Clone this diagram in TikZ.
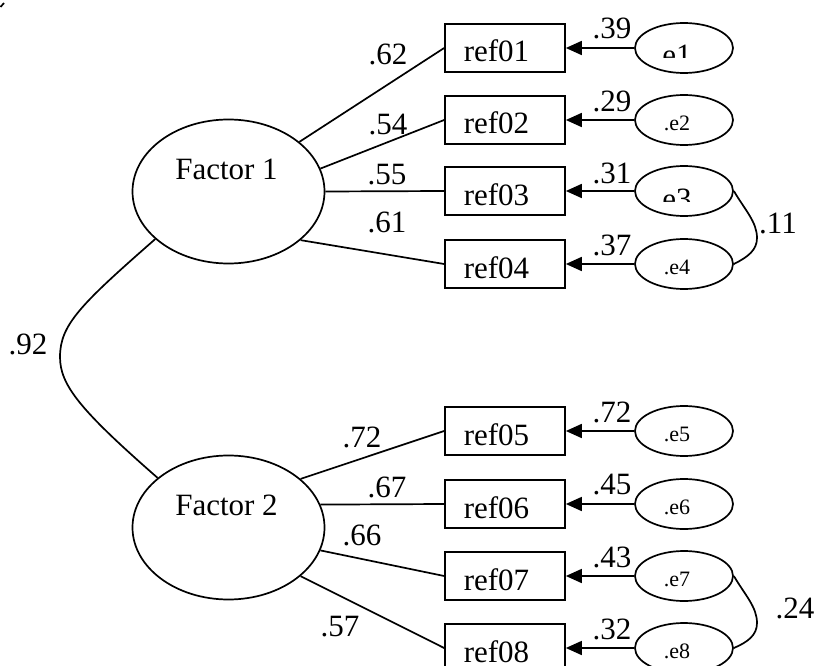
\documentclass[tikz,border=0pt]{standalone}
\usepackage{fontspec}
\setmainfont{Liberation Serif}
\usetikzlibrary{shapes.geometric,arrows.meta,calc}
\begin{document}
\begin{tikzpicture}[x=1pt,y=1pt,line width=1.7pt,
  box/.style={draw,rectangle,minimum width=120pt,minimum height=48pt,inner sep=0pt,
    font=\fontsize{31}{36}\selectfont,text height=28pt,text depth=0pt},
  fac/.style={draw,ellipse,minimum width=192pt,minimum height=144pt,inner sep=0pt},
  err/.style={draw,ellipse,minimum width=98pt,minimum height=50pt,inner sep=0pt},
  big/.style={font=\fontsize{31}{36}\selectfont,inner sep=0pt},
  small/.style={font=\fontsize{22}{26}\selectfont,inner sep=0pt},
  arr/.style={-{Triangle[length=16pt,width=14pt]}},
]
\useasboundingbox (0,0) rectangle (817,-666);
% small mark in the corner
\draw (0.5,-7) -- (4,-3);

% factors
\node[fac] (F1) at (228.5,-191.5) {};
\node[fac] (F2) at (228.5,-527.5) {};
\node[big,anchor=base] (F1t) at ($(F1.center)+(-2,12.5)$) {Factor 1};
\node[big,anchor=base] (F2t) at ($(F2.center)+(-2,12.5)$) {Factor 2};

% indicators
\node[box] (r1) at (505,-48) {ref01\kern17pt};
\node[box] (r2) at (505,-120) {ref02\kern17pt};
\node[box] (r3) at (505,-191) {ref03\kern17pt};
\node[box] (r4) at (505,-264) {ref04\kern17pt};
\node[box] (r5) at (505,-431) {ref05\kern17pt};
\node[box] (r6) at (505,-504) {ref06\kern17pt};
\node[box] (r7) at (505,-576) {ref07\kern17pt};
\node[box] (r8) at (505,-648) {ref08\kern17pt};

% errors
\node[err] (e1) at (684,-48) {};
\node[err] (e2) at (684,-120) {};
\node[err] (e3) at (684,-191) {};
\node[err] (e4) at (684,-264) {};
\node[err] (e5) at (684,-431) {};
\node[err] (e6) at (684,-504) {};
\node[err] (e7) at (684,-576) {};
\node[err] (e8) at (684,-648) {};

\begin{scope}
  \clip (636,-20) rectangle (732,-58);
  \node[big,anchor=base] (e1t) at ($(e1.center)+(-7,-18)$) {e1};
\end{scope}
\begin{scope}
  \clip (636,-160) rectangle (732,-201);
  \node[big,anchor=base] (e3t) at ($(e3.center)+(-7,-18)$) {e3};
\end{scope}
\node[small,anchor=base] (e2t) at ($(e2.center)+(-7,-10.5)$) {.e2};
\node[small,anchor=base] (e4t) at ($(e4.center)+(-7,-10.5)$) {.e4};
\node[small,anchor=base] (e5t) at ($(e5.center)+(-7,-10.5)$) {.e5};
\node[small,anchor=base] (e6t) at ($(e6.center)+(-7,-10.5)$) {.e6};
\node[small,anchor=base] (e7t) at ($(e7.center)+(-7,-10.5)$) {.e7};
\node[small,anchor=base] (e8t) at ($(e8.center)+(-7,-10.5)$) {.e8};

% loadings
\draw (F1.35) -- (r1.west);
\draw (F1.14) -- (r2.west);
\draw (F1.0) -- (r3.west);
\draw (F1.-34) -- (r4.west);
\draw (F2.34) -- (r5.west);
\draw (F2.14) -- (r6.west);
\draw (F2.-14) -- (r7.west);
\draw (F2.-34) -- (r8.west);

% error paths
\foreach \i in {1,...,8} { \draw[arr] (e\i) -- (r\i); }

% correlations
\draw (F1.-147) .. controls (80,-305) and (60,-325) .. (60,-357)
      .. controls (60,-385) and (80,-410) .. (F2.145);
\draw (e3.east) .. controls (745,-210) and (757,-222) .. (757,-238)
      .. controls (757,-250) and (748,-257) .. (e4.east);
\draw (e7.east) .. controls (745,-595) and (757,-607) .. (757,-623)
      .. controls (757,-635) and (748,-642) .. (e8.east);

% labels
\node[big] (l62) at (388,-54) {.62};
\node[big] (l54) at (388,-125) {.54};
\node[big] (l55) at (387,-175) {.55};
\node[big] (l61) at (387,-222) {.61};
\node[big] (l72) at (362,-437) {.72};
\node[big] (l67) at (387,-487) {.67};
\node[big] (l66) at (362,-535) {.66};
\node[big] (l57) at (340,-627) {.57};
\node[big] (l92) at (28,-344) {.92};
\node[big] (l11) at (778,-223) {.11};
\node[big] (l24) at (795,-608) {.24};
\node[big] (v1) at (612,-28) {.39};
\node[big] (v2) at (612,-101) {.29};
\node[big] (v3) at (612,-173) {.31};
\node[big] (v4) at (612,-245) {.37};
\node[big] (v5) at (612,-412) {.72};
\node[big] (v6) at (612,-485) {.45};
\node[big] (v7) at (612,-557) {.43};
\node[big] (v8) at (612,-629) {.32};
\end{tikzpicture}
\end{document}
